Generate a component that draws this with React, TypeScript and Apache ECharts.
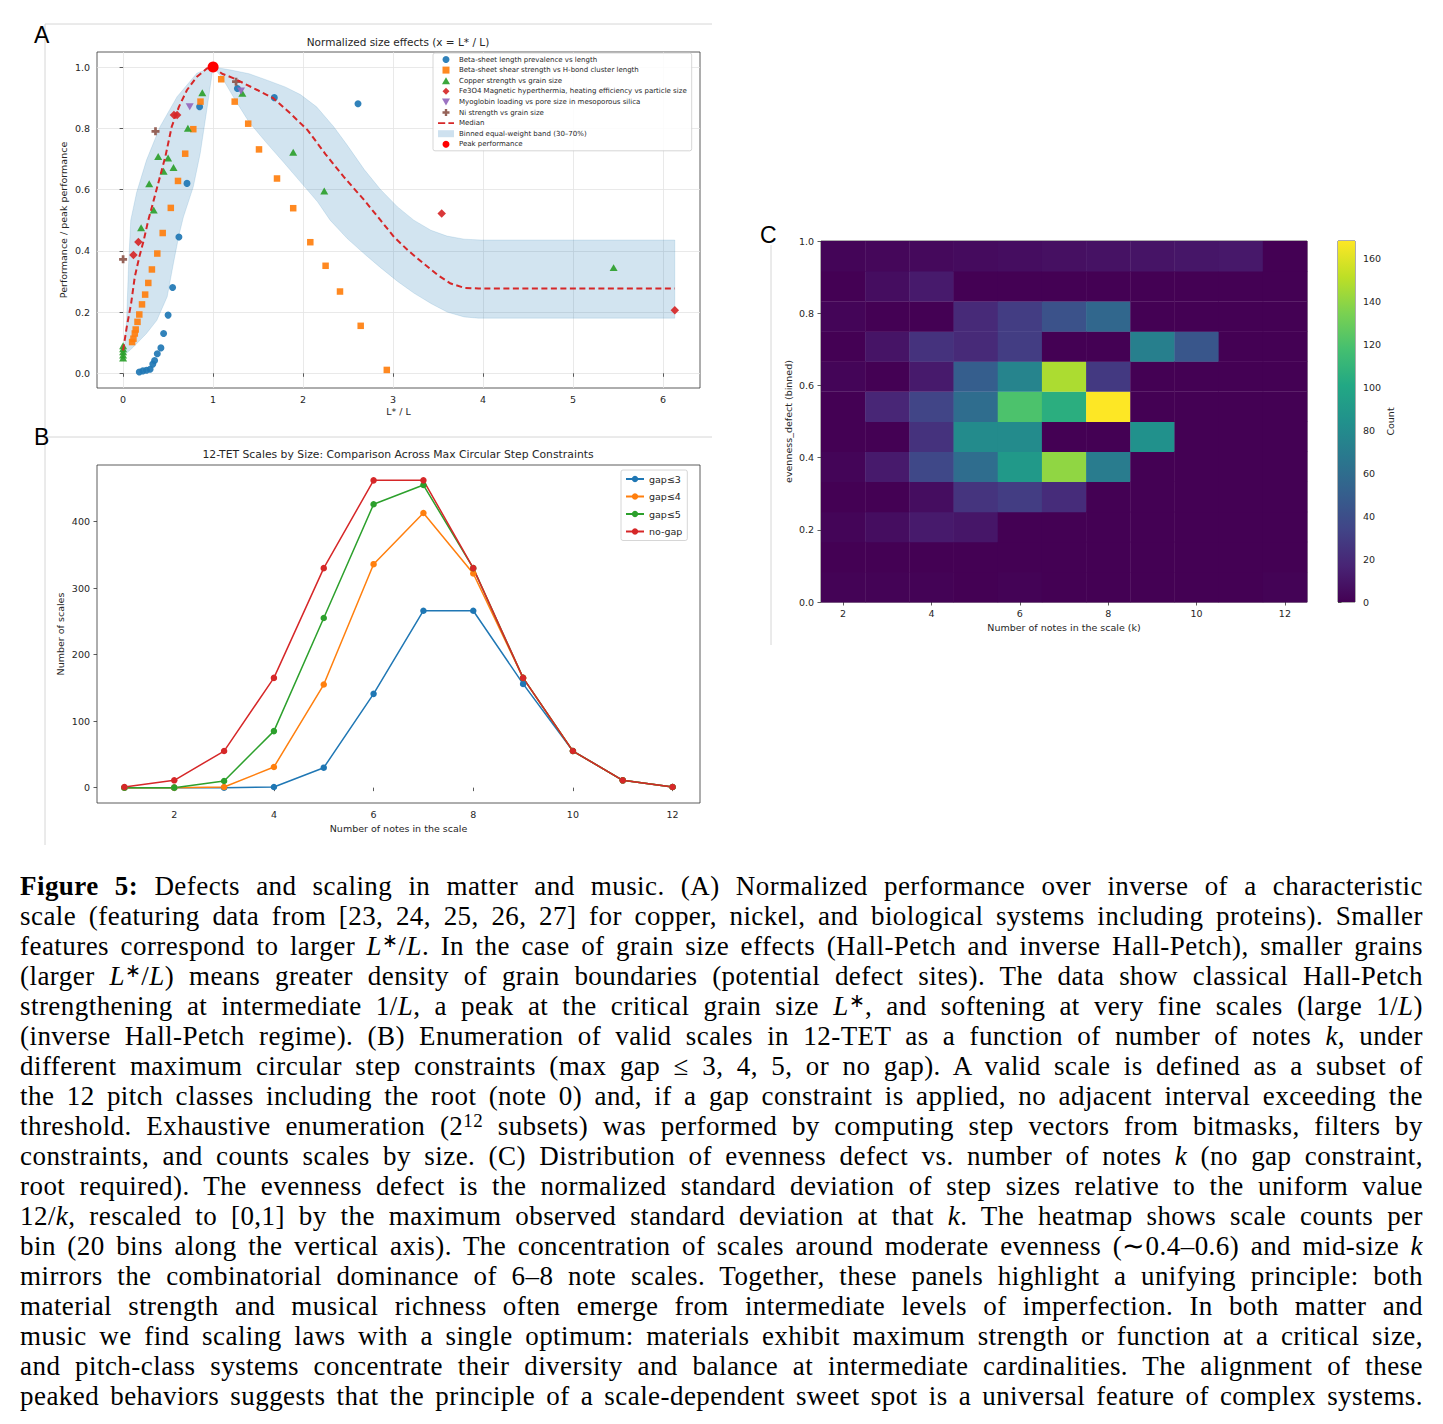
import React, { useEffect, useRef } from "react";
import * as echarts from "echarts";

const FONT = "DejaVu Sans";
const TXT = "#262626";

// ---------------- Panel A: normalized size effects ----------------
const betaLengthX = [0.18, 0.22, 0.26, 0.3, 0.33, 0.35, 0.38, 0.42, 0.45, 0.5, 0.55, 0.62, 0.71, 0.85, 1.27, 1.68, 2.61];
const betaLengthY = [0.004, 0.008, 0.01, 0.013, 0.03, 0.042, 0.064, 0.083, 0.13, 0.19, 0.28, 0.445, 0.62, 0.87, 0.93, 0.9, 0.88];

const shearX = [0.1, 0.115, 0.13, 0.14, 0.16, 0.18, 0.21, 0.245, 0.28, 0.32, 0.38, 0.44, 0.53, 0.61, 0.69, 0.78, 0.86, 1.09, 1.24, 1.39, 1.51, 1.71, 1.89, 2.08, 2.25, 2.41, 2.64, 2.93];
const shearY = [0.102, 0.113, 0.13, 0.143, 0.168, 0.192, 0.225, 0.257, 0.295, 0.339, 0.391, 0.458, 0.54, 0.628, 0.717, 0.797, 0.887, 0.96, 0.887, 0.815, 0.731, 0.636, 0.539, 0.428, 0.351, 0.267, 0.155, 0.011];

const copperX = [0, 0, 0, 0, 0, 0.2, 0.29, 0.34, 0.39, 0.45, 0.5, 0.56, 0.72, 0.88, 1.325, 1.89, 2.235, 5.45];
const copperY = [0.05, 0.06, 0.07, 0.08, 0.09, 0.475, 0.619, 0.533, 0.708, 0.66, 0.703, 0.672, 0.8, 0.916, 0.914, 0.722, 0.595, 0.345];

const fe3o4X = [0.115, 0.17, 0.565, 0.6, 3.54, 6.13];
const fe3o4Y = [0.386, 0.429, 0.843, 0.843, 0.522, 0.206];

const myoglobinX = [0.74, 1.31];
const myoglobinY = [0.87, 0.922];

const nickelX = [0.0, 0.36, 1.255];
const nickelY = [0.372, 0.79, 0.952];

const peakX = [1.0];
const peakY = [1.0];

const medianX = [0.0, 0.04, 0.09, 0.13, 0.18, 0.23, 0.28, 0.32, 0.39, 0.47, 0.54, 0.62, 0.71, 0.82, 0.93, 1.0, 1.1, 1.23, 1.49, 1.67, 1.86, 2.05, 2.25, 2.45, 2.68, 2.86, 3.01, 3.17, 3.34, 3.5, 3.64, 3.79, 3.95, 6.13];
const medianY = [0.075, 0.15, 0.23, 0.315, 0.38, 0.435, 0.5, 0.543, 0.62, 0.708, 0.805, 0.87, 0.925, 0.968, 0.995, 1.0, 0.978, 0.963, 0.925, 0.898, 0.848, 0.794, 0.715, 0.642, 0.565, 0.5, 0.445, 0.4, 0.358, 0.32, 0.293, 0.279, 0.277, 0.277];

const bandUpperX = [0.0, 0.02, 0.04, 0.06, 0.085, 0.15, 0.26, 0.41, 0.6, 0.82, 1.0, 1.2, 1.4, 1.6, 1.8, 1.97, 2.15, 2.34, 2.49, 2.68, 2.86, 3.05, 3.23, 3.42, 3.6, 3.79, 3.98, 6.13];
const bandUpperY = [0.065, 0.1, 0.18, 0.35, 0.5, 0.59, 0.696, 0.805, 0.903, 0.98, 1.0, 0.99, 0.978, 0.957, 0.935, 0.91, 0.87, 0.805, 0.745, 0.665, 0.6, 0.543, 0.5, 0.467, 0.448, 0.438, 0.435, 0.435];
const bandLowerX = [0.0, 0.04, 0.115, 0.26, 0.375, 0.49, 0.56, 0.62, 0.67, 0.78, 0.857, 0.93, 1.0, 1.1, 1.25, 1.4, 1.6, 1.78, 1.97, 2.16, 2.3, 2.49, 2.68, 2.86, 3.05, 3.23, 3.42, 3.6, 3.79, 3.95, 6.13];
const bandLowerY = [0.062, 0.066, 0.086, 0.13, 0.173, 0.25, 0.36, 0.45, 0.51, 0.609, 0.718, 0.86, 1.0, 0.965, 0.89, 0.82, 0.75, 0.69, 0.625, 0.56, 0.5, 0.44, 0.39, 0.345, 0.3, 0.262, 0.228, 0.2, 0.184, 0.18, 0.18];

const xTicksA = [0, 1, 2, 3, 4, 5, 6];
const yTicksA = [0, 0.2, 0.4, 0.6, 0.8, 1.0];

// ---------------- Panel B: 12-TET scales by size ----------------
const notesK = [1, 2, 3, 4, 5, 6, 7, 8, 9, 10, 11, 12];
const gap3 = [0, 0, 0, 1, 30, 141, 266, 266, 156, 55, 11, 1];
const gap4 = [0, 0, 1, 31, 155, 336, 413, 322, 165, 55, 11, 1];
const gap5 = [0, 0, 10, 85, 255, 426, 455, 330, 165, 55, 11, 1];
const noGap = [1, 11, 55, 165, 330, 462, 462, 330, 165, 55, 11, 1];
const xTicksB = [2, 4, 6, 8, 10, 12];
const yTicksB = [0, 100, 200, 300, 400];

// ---------------- Panel C: evenness defect heatmap ----------------
const heatK = [2, 3, 4, 5, 6, 7, 8, 9, 10, 11, 12];
const evennessEdges = [0, 0.0833, 0.1667, 0.25, 0.3333, 0.4167, 0.5, 0.5833, 0.6667, 0.75, 0.8333, 0.9167, 1.0];
// counts per k, rows from the lowest bin to the highest
const countsK2 = [1, 0, 2, 0, 2, 0, 0, 2, 0, 2, 0, 2];
const countsK3 = [1, 0, 6, 0, 12, 0, 18, 0, 9, 0, 6, 3];
const countsK4 = [1, 0, 12, 6, 36, 24, 34, 12, 24, 0, 12, 4];
const countsK5 = [0, 0, 10, 25, 60, 80, 60, 50, 20, 20, 0, 5];
const countsK6 = [1, 0, 0, 30, 90, 80, 120, 75, 30, 30, 0, 6];
const countsK7 = [0, 0, 0, 21, 140, 0, 105, 147, 0, 42, 0, 7];
const countsK8 = [0, 0, 0, 0, 70, 0, 168, 28, 0, 56, 0, 8];
const countsK9 = [0, 0, 0, 0, 0, 84, 0, 0, 72, 0, 0, 9];
const countsK10 = [0, 0, 0, 0, 0, 0, 0, 0, 45, 0, 0, 10];
const countsK11 = [0, 0, 0, 0, 0, 0, 0, 0, 0, 0, 0, 11];
const countsK12 = [1, 0, 0, 0, 0, 0, 0, 0, 0, 0, 0, 0];
const countsByK = [countsK2, countsK3, countsK4, countsK5, countsK6, countsK7, countsK8, countsK9, countsK10, countsK11, countsK12];
const xTicksC = [2, 4, 6, 8, 10, 12];
const yTicksC = [0, 0.2, 0.4, 0.6, 0.8, 1.0];
const colorbarTicks = [0, 20, 40, 60, 80, 100, 120, 140, 160];
const countMax = 168;
const viridis = ["#440154", "#482475", "#414487", "#355f8d", "#2a788e", "#21918c", "#22a884", "#44bf70", "#7ad151", "#bddf26", "#fde725"];

const zip = (xs: number[], ys: number[]) => xs.map((x, i) => [x, ys[i]]);

const tickLabel = (extra: any = {}) => ({ fontFamily: FONT, fontSize: 9.5, color: TXT, ...extra });
const tickStyle = (values: number[]) => ({ show: true, customValues: values, length: 3.5, lineStyle: { color: "#333", width: 0.8 } });
const nameStyle = { fontFamily: FONT, fontSize: 9.5, color: TXT };
const gridBox = { show: true, borderColor: "#333", borderWidth: 0.8, backgroundColor: "transparent" };

const SQUARE = "path://M0,0H10V10H0Z";
const TRIANGLE = "path://M5,0L10,8.7L0,8.7Z";
const DIAMOND = "path://M5,0L10,5L5,10L0,5Z";
const INV_TRIANGLE = "path://M0,0L10,0L5,8.7Z";
const PLUS = "path://M3.3,0H6.7V3.3H10V6.7H6.7V10H3.3V6.7H0V3.3H3.3Z";
const DASH_ICON = "path://M0,0H9V2.2H0Z M13,0H20V2.2H13Z";

function buildOption() {
  const heatData: number[][] = [];
  heatK.forEach((k, i) => {
    countsByK[i].forEach((c, j) => heatData.push([k, j, c]));
  });

  const scatterBase = (name: string, xs: number[], ys: number[], symbol: string, size: number, color: string, extra: any = {}) => ({
    name,
    type: "scatter",
    xAxisIndex: 0,
    yAxisIndex: 0,
    data: zip(xs, ys),
    symbol,
    symbolSize: size,
    symbolKeepAspect: true,
    itemStyle: { color, opacity: 0.92 },
    z: 3,
    emphasis: { disabled: true },
    ...extra,
  });

  const lineB = (name: string, values: number[], color: string) => ({
    name,
    type: "line",
    xAxisIndex: 1,
    yAxisIndex: 1,
    data: zip(notesK, values),
    symbol: "circle",
    symbolSize: 6.5,
    showSymbol: true,
    lineStyle: { color, width: 1.5 },
    itemStyle: { color },
    emphasis: { disabled: true },
  });

  return {
    animation: false,
    backgroundColor: "#fff",
    textStyle: { fontFamily: FONT },
    grid: [
      { left: 97, top: 52, width: 603, height: 336, ...gridBox },
      { left: 97, top: 465, width: 603, height: 338, ...gridBox },
      { left: 821, top: 241, width: 486, height: 361, ...gridBox },
      { left: 1338, top: 241, width: 17, height: 361, ...gridBox },
    ],
    xAxis: [
      {
        gridIndex: 0, type: "value", min: -0.29, max: 6.41,
        axisLine: { show: false },
        axisTick: tickStyle(xTicksA),
        axisLabel: { ...tickLabel(), margin: 6, customValues: xTicksA },
        splitLine: { show: true, lineStyle: { color: "#e3e3e3", width: 0.8 } },
        name: "L* / L", nameLocation: "middle", nameGap: 18, nameTextStyle: nameStyle,
      },
      {
        gridIndex: 1, type: "value", min: 0.45, max: 12.55,
        axisLine: { show: false },
        axisTick: tickStyle(xTicksB),
        axisLabel: { ...tickLabel(), margin: 6, customValues: xTicksB },
        splitLine: { show: false },
        name: "Number of notes in the scale", nameLocation: "middle", nameGap: 20, nameTextStyle: nameStyle,
      },
      {
        gridIndex: 2, type: "value", min: 1.5, max: 12.5,
        axisLine: { show: false },
        axisTick: tickStyle(xTicksC),
        axisLabel: { ...tickLabel(), margin: 6, customValues: xTicksC },
        splitLine: { show: false },
        name: "Number of notes in the scale (k)", nameLocation: "middle", nameGap: 20, nameTextStyle: nameStyle,
      },
      { gridIndex: 3, type: "value", min: 0, max: 1, show: false },
    ],
    yAxis: [
      {
        gridIndex: 0, type: "value", min: -0.048, max: 1.049,
        axisLine: { show: false },
        axisTick: tickStyle(yTicksA),
        axisLabel: { ...tickLabel(), margin: 7, customValues: yTicksA, formatter: (v: number) => v.toFixed(1) },
        splitLine: { show: true, lineStyle: { color: "#e3e3e3", width: 0.8 } },
        name: "Performance / peak performance", nameLocation: "middle", nameGap: 29, nameTextStyle: nameStyle,
      },
      {
        gridIndex: 1, type: "value", min: -23.1, max: 485.1,
        axisLine: { show: false },
        axisTick: tickStyle(yTicksB),
        axisLabel: { ...tickLabel(), margin: 7, customValues: yTicksB },
        splitLine: { show: false },
        name: "Number of scales", nameLocation: "middle", nameGap: 32, nameTextStyle: nameStyle,
      },
      {
        gridIndex: 2, type: "value", min: 0, max: 1,
        axisLine: { show: false },
        axisTick: tickStyle(yTicksC),
        axisLabel: { ...tickLabel(), margin: 7, customValues: yTicksC, formatter: (v: number) => v.toFixed(1) },
        splitLine: { show: false },
        name: "evenness_defect (binned)", nameLocation: "middle", nameGap: 28, nameTextStyle: nameStyle,
      },
      {
        gridIndex: 3, type: "value", min: 0, max: countMax, position: "right",
        axisLine: { show: false },
        axisTick: tickStyle(colorbarTicks),
        axisLabel: { ...tickLabel(), margin: 8, customValues: colorbarTicks },
        splitLine: { show: false },
        name: "Count", nameLocation: "middle", nameGap: 30, nameRotate: 90, nameTextStyle: nameStyle,
      },
    ],
    visualMap: [
      {
        type: "continuous", show: false, seriesIndex: 13, dimension: 2,
        min: 0, max: countMax, inRange: { color: viridis },
      },
    ],
    legend: [
      {
        data: [
          { name: "Beta-sheet length prevalence vs length", icon: "circle" },
          { name: "Beta-sheet shear strength vs H-bond cluster length", icon: SQUARE },
          { name: "Copper strength vs grain size", icon: TRIANGLE },
          { name: "Fe3O4 Magnetic hyperthermia, heating efficiency vs particle size", icon: DIAMOND },
          { name: "Myoglobin loading vs pore size in mesoporous silica", icon: INV_TRIANGLE },
          { name: "Ni strength vs grain size", icon: PLUS },
          { name: "Median", icon: DASH_ICON },
          { name: "Binned equal-weight band (30–70%)", icon: "rect", symbolKeepAspect: false },
          { name: "Peak performance", icon: "circle" },
        ],
        orient: "vertical", left: 433, top: 53,
        itemWidth: 16, itemHeight: 7, itemGap: 3.6,
        symbolKeepAspect: true,
        padding: [3, 5, 3, 5],
        selectedMode: false,
        backgroundColor: "rgba(255,255,255,0.85)", borderColor: "#cccccc", borderWidth: 0.8, borderRadius: 2,
        textStyle: { fontFamily: FONT, fontSize: 7, color: TXT },
      },
      {
        data: ["gap≤3", "gap≤4", "gap≤5", "no-gap"],
        orient: "vertical", left: 621, top: 470,
        itemWidth: 18, itemHeight: 8, itemGap: 7.5,
        padding: [4, 5, 4, 4],
        selectedMode: false,
        backgroundColor: "rgba(255,255,255,0.85)", borderColor: "#cccccc", borderWidth: 0.8, borderRadius: 2,
        textStyle: { fontFamily: FONT, fontSize: 9.5, color: TXT },
      },
    ],
    series: [
      // 0: band
      {
        name: "Binned equal-weight band (30–70%)",
        type: "custom",
        xAxisIndex: 0, yAxisIndex: 0,
        data: [[0, 0]],
        z: 1,
        itemStyle: { color: "rgba(31,119,180,0.22)" },
        renderItem: (_p: any, api: any) => {
          const pts: number[][] = [];
          for (let i = 0; i < bandUpperX.length; i++) pts.push(api.coord([bandUpperX[i], bandUpperY[i]]));
          for (let i = bandLowerX.length - 1; i >= 0; i--) pts.push(api.coord([bandLowerX[i], bandLowerY[i]]));
          return {
            type: "polygon",
            shape: { points: pts },
            style: { fill: "rgba(31,119,180,0.2)", stroke: "rgba(31,119,180,0.18)", lineWidth: 0.8 },
          };
        },
      },
      // 1-6: scatter groups
      scatterBase("Beta-sheet length prevalence vs length", betaLengthX, betaLengthY, "circle", 7, "#1f77b4"),
      scatterBase("Beta-sheet shear strength vs H-bond cluster length", shearX, shearY, SQUARE, 6.5, "#ff7f0e"),
      scatterBase("Copper strength vs grain size", copperX, copperY, TRIANGLE, 8, "#2ca02c"),
      scatterBase("Fe3O4 Magnetic hyperthermia, heating efficiency vs particle size", fe3o4X, fe3o4Y, DIAMOND, 8.5, "#d62728"),
      scatterBase("Myoglobin loading vs pore size in mesoporous silica", myoglobinX, myoglobinY, INV_TRIANGLE, 8, "#9467bd"),
      scatterBase("Ni strength vs grain size", nickelX, nickelY, PLUS, 8, "#8c564b"),
      // 7: median
      {
        name: "Median",
        type: "line",
        xAxisIndex: 0, yAxisIndex: 0,
        data: zip(medianX, medianY),
        showSymbol: false, symbol: "none",
        smooth: false,
        lineStyle: { color: "#d62728", width: 2, type: [6, 3.5] },
        itemStyle: { color: "#d62728" },
        z: 4,
        emphasis: { disabled: true },
      },
      // 8: peak
      scatterBase("Peak performance", peakX, peakY, "circle", 11, "#ff0000", { z: 5, itemStyle: { color: "#ff0000", opacity: 1 } }),
      // 9-12: panel B
      lineB("gap≤3", gap3, "#1f77b4"),
      lineB("gap≤4", gap4, "#ff7f0e"),
      lineB("gap≤5", gap5, "#2ca02c"),
      lineB("no-gap", noGap, "#d62728"),
      // 13: heatmap
      {
        name: "heatmap",
        type: "custom",
        xAxisIndex: 2, yAxisIndex: 2,
        data: heatData,
        encode: { x: 0, y: 1 },
        renderItem: (_p: any, api: any) => {
          const k = api.value(0);
          const j = api.value(1);
          const p0 = api.coord([k - 0.5, evennessEdges[j]]);
          const p1 = api.coord([k + 0.5, evennessEdges[j + 1]]);
          return {
            type: "rect",
            shape: { x: p0[0], y: p1[1], width: p1[0] - p0[0] + 0.4, height: p0[1] - p1[1] + 0.4 },
            style: { fill: api.visual("color") },
          };
        },
      },
      // 14: colorbar
      {
        name: "colorbar",
        type: "custom",
        xAxisIndex: 3, yAxisIndex: 3,
        data: [[0, 0]],
        renderItem: (_p: any, api: any) => {
          const p0 = api.coord([0, 0]);
          const p1 = api.coord([1, countMax]);
          return {
            type: "rect",
            shape: { x: p0[0], y: p1[1], width: p1[0] - p0[0], height: p0[1] - p1[1] },
            style: {
              fill: new echarts.graphic.LinearGradient(0, 1, 0, 0, viridis.map((c, i) => ({ offset: i / (viridis.length - 1), color: c }))),
            },
          };
        },
      },
    ],
    graphic: [
      { type: "line", shape: { x1: 45, y1: 24, x2: 712, y2: 24 }, style: { stroke: "#d6d6d6", lineWidth: 1 }, silent: true },
      { type: "line", shape: { x1: 45, y1: 24, x2: 45, y2: 430 }, style: { stroke: "#d6d6d6", lineWidth: 1 }, silent: true },
      { type: "line", shape: { x1: 45, y1: 437, x2: 712, y2: 437 }, style: { stroke: "#d6d6d6", lineWidth: 1 }, silent: true },
      { type: "line", shape: { x1: 45, y1: 437, x2: 45, y2: 845 }, style: { stroke: "#d6d6d6", lineWidth: 1 }, silent: true },
      { type: "line", shape: { x1: 771, y1: 245, x2: 771, y2: 645 }, style: { stroke: "#d6d6d6", lineWidth: 1 }, silent: true },
      { type: "text", x: 34, y: 35, style: { text: "A", font: '23px "Liberation Sans"', fill: "#000", verticalAlign: "middle" }, silent: true },
      { type: "text", x: 34, y: 437, style: { text: "B", font: '23px "Liberation Sans"', fill: "#000", verticalAlign: "middle" }, silent: true },
      { type: "text", x: 760, y: 235, style: { text: "C", font: '23px "Liberation Sans"', fill: "#000", verticalAlign: "middle" }, silent: true },
      { type: "text", x: 398, y: 42, style: { text: "Normalized size effects (x = L* / L)", font: '10.5px "DejaVu Sans"', fill: TXT, align: "center", verticalAlign: "middle" }, silent: true },
      { type: "text", x: 398, y: 454, style: { text: "12-TET Scales by Size: Comparison Across Max Circular Step Constraints", font: '10.8px "DejaVu Sans"', fill: TXT, align: "center", verticalAlign: "middle" }, silent: true },
    ],
  };
}

const sup = (s: string) => (
  <span style={{ fontSize: "0.7em", position: "relative", top: "-0.45em", lineHeight: 0 }}>{s}</span>
);
const Lstar = () => (<><i>L</i>{sup("∗")}</>);

const captionLines: React.ReactNode[] = [
  <><b>Figure 5:</b> Defects and scaling in matter and music. (A) Normalized performance over inverse of a characteristic</>,
  <>scale (featuring data from [23, 24, 25, 26, 27] for copper, nickel, and biological systems including proteins). Smaller</>,
  <>features correspond to larger <Lstar />/<i>L</i>. In the case of grain size effects (Hall-Petch and inverse Hall-Petch), smaller grains</>,
  <>(larger <Lstar />/<i>L</i>) means greater density of grain boundaries (potential defect sites). The data show classical Hall-Petch</>,
  <>strengthening at intermediate 1/<i>L</i>, a peak at the critical grain size <Lstar />, and softening at very fine scales (large 1/<i>L</i>)</>,
  <>(inverse Hall-Petch regime). (B) Enumeration of valid scales in 12-TET as a function of number of notes <i>k</i>, under</>,
  <>different maximum circular step constraints (max gap ≤ 3, 4, 5, or no gap). A valid scale is defined as a subset of</>,
  <>the 12 pitch classes including the root (note 0) and, if a gap constraint is applied, no adjacent interval exceeding the</>,
  <>threshold. Exhaustive enumeration (2{sup("12")} subsets) was performed by computing step vectors from bitmasks, filters by</>,
  <>constraints, and counts scales by size. (C) Distribution of evenness defect vs. number of notes <i>k</i> (no gap constraint,</>,
  <>root required). The evenness defect is the normalized standard deviation of step sizes relative to the uniform value</>,
  <>12/<i>k</i>, rescaled to [0,1] by the maximum observed standard deviation at that <i>k</i>. The heatmap shows scale counts per</>,
  <>bin (20 bins along the vertical axis). The concentration of scales around moderate evenness (∼0.4–0.6) and mid-size <i>k</i></>,
  <>mirrors the combinatorial dominance of 6–8 note scales. Together, these panels highlight a unifying principle: both</>,
  <>material strength and musical richness often emerge from intermediate levels of imperfection. In both matter and</>,
  <>music we find scaling laws with a single optimum: materials exhibit maximum strength or function at a critical size,</>,
  <>and pitch-class systems concentrate their diversity and balance at intermediate cardinalities. The alignment of these</>,
  <>peaked behaviors suggests that the principle of a scale-dependent sweet spot is a universal feature of complex systems.</>,
];

export default function App() {
  const ref = useRef<HTMLDivElement>(null);
  useEffect(() => {
    if (!ref.current) return;
    const chart = echarts.init(ref.current, null, { renderer: "svg" });
    chart.setOption(buildOption() as any);
    return () => chart.dispose();
  }, []);
  return (
    <div style={{ position: "absolute", left: 0, top: 0, width: 1443, height: 1424, background: "#fff", overflow: "hidden" }}>
      <div ref={ref} style={{ position: "absolute", left: 0, top: 0, width: 1443, height: 860 }} />
      <div
        style={{
          position: "absolute", left: 20, top: 871, width: 1403,
          fontFamily: '"Liberation Serif", serif', fontSize: 27, letterSpacing: "0.45px", lineHeight: "30px", color: "#000",
        }}
      >
        {captionLines.map((ln, i) => (
          <div key={i} style={{ height: 30, overflow: "hidden", textAlign: "justify", textAlignLast: "justify" as any }}>
            {ln}
          </div>
        ))}
      </div>
    </div>
  );
}
